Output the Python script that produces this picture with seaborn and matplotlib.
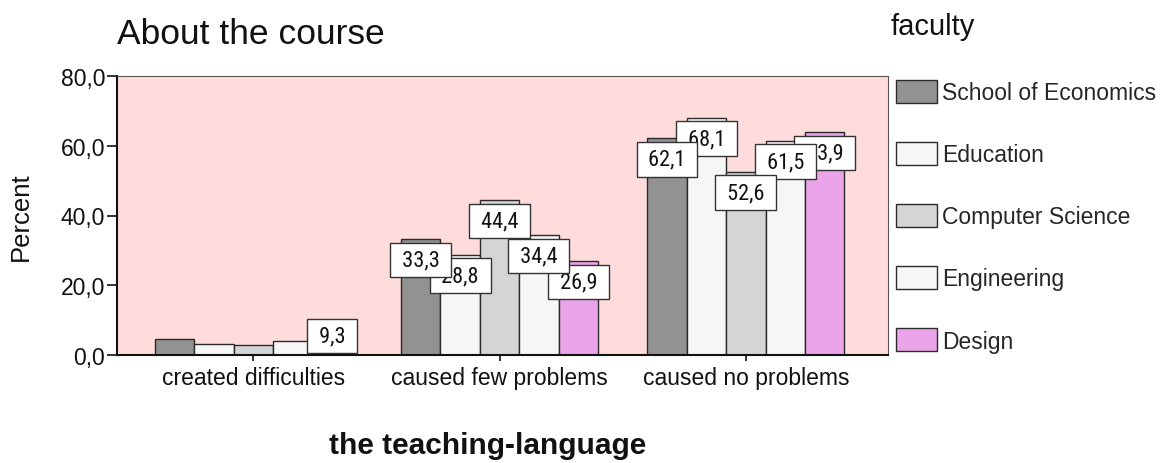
import matplotlib
matplotlib.use("Agg")
import matplotlib.pyplot as plt
import matplotlib.ticker as mticker
import seaborn as sns
import pandas as pd

categories = ["created difficulties", "caused few problems", "caused no problems"]
faculties = ["School of Economics", "Education", "Computer Science", "Engineering", "Design"]
economics = [4.6, 33.3, 62.1]
education = [3.1, 28.8, 68.1]
computer_science = [3.0, 44.4, 52.6]
engineering = [4.1, 34.4, 61.5]
design = [9.3, 26.9, 63.9]
# which value labels are shown (per faculty, per category)
show_label = [
    [False, True, True],
    [False, True, True],
    [False, True, True],
    [False, True, True],
    [True, True, True],
]
colors = ["#929292", "#f6f6f6", "#d5d5d5", "#f6f6f6", "#eba3e9"]

series = [economics, education, computer_science, engineering, design]
rows = []
for fac, vals in zip(faculties, series):
    for cat, v in zip(categories, vals):
        rows.append({"category": cat, "faculty": fac, "percent": v})
df = pd.DataFrame(rows)

sns.set_theme(style="white")
plt.rcParams["font.family"] = ["Liberation Sans", "DejaVu Sans"]

W, H = 1167, 464
fig = plt.figure(figsize=(W / 100, H / 100), dpi=100)
ax_left, ax_right, ax_top, ax_bottom = 117, 888, 77, 356
ax = fig.add_axes([ax_left / W, 1 - ax_bottom / H, (ax_right - ax_left) / W, (ax_bottom - ax_top) / H])
ax.set_facecolor("#ffdcdc")

sns.barplot(data=df, x="category", y="percent", hue="faculty",
            order=categories, hue_order=faculties, palette=colors,
            saturation=1, width=0.8, edgecolor="#2a2a2a", linewidth=1.0,
            errorbar=None, ax=ax, legend=True)

ax.set_xlim(-0.553, 2.577)
ax.set_ylim(0, 80)
ax.yaxis.set_major_locator(mticker.MultipleLocator(20))
ax.yaxis.set_major_formatter(mticker.FuncFormatter(lambda v, p: f"{v:.1f}".replace(".", ",")))

for sp in ax.spines.values():
    sp.set_color("#555555")
    sp.set_linewidth(0.8)
ax.spines["left"].set_color("#111111")
ax.spines["bottom"].set_color("#111111")
ax.spines["left"].set_linewidth(1.5)
ax.spines["bottom"].set_linewidth(1.5)

ax.tick_params(axis="y", which="major", left=True, length=7, width=1.2, pad=1.5,
               labelsize=16.5, color="#111111", labelcolor="#111111")
ax.tick_params(axis="x", which="major", bottom=True, length=4.5, width=1.2, pad=3.5,
               labelsize=16.5, color="#111111", labelcolor="#111111")

ax.set_ylabel("Percent", fontsize=18.5, color="#111111")
ax.yaxis.set_label_coords((33 - ax_left) / (ax_right - ax_left), 0.5)
ax.set_xlabel("the teaching-language", fontsize=21.5, fontweight="bold", color="#111111")
ax.xaxis.set_label_coords((487.5 - ax_left) / (ax_right - ax_left), (ax_bottom - 432) / (ax_bottom - ax_top))

# value labels (draw later faculties first so earlier ones sit on top)
px_per_unit = (ax_bottom - ax_top) / 80.0
label_font = ["Roboto Condensed", "Liberation Sans Narrow", "Roboto", "DejaVu Sans"]
for i in reversed(range(len(faculties))):
    cont = ax.containers[i]
    for j, rect in enumerate(cont):
        if not show_label[i][j]:
            continue
        val = series[i][j]
        xc = rect.get_x() + rect.get_width() / 2
        top_px = rect.get_height() * px_per_unit
        off = max(-21.0, 19.0 - top_px)
        txt = " " + f"{val:.1f}".replace(".", ",") + " "
        ax.annotate(txt, xy=(xc, rect.get_height()),
                    xytext=(0, off), textcoords="offset pixels",
                    ha="center", va="center", fontsize=16, family=label_font,
                    fontweight="normal", color="#111111", zorder=10 + (5 - i),
                    bbox=dict(boxstyle="square,pad=0.3", fc="white", ec="#333333", lw=1.0))

handles, labels = ax.get_legend_handles_labels()
ax.legend(handles, labels, loc="upper left", bbox_to_anchor=(896 / W, 1 - 81 / H),
          bbox_transform=fig.transFigure, frameon=False, fontsize=16.5,
          handlelength=1.79, handleheight=1.18, labelspacing=1.645, handletextpad=0.22,
          borderpad=0, borderaxespad=0)

fig.text(117 / W, 1 - 44 / H, "About the course", fontsize=25.5, color="#111111",
         ha="left", va="baseline")
fig.text(891 / W, 1 - 35 / H, "faculty", fontsize=21, color="#111111",
         ha="left", va="baseline")

fig.savefig("out.png", dpi=100)
